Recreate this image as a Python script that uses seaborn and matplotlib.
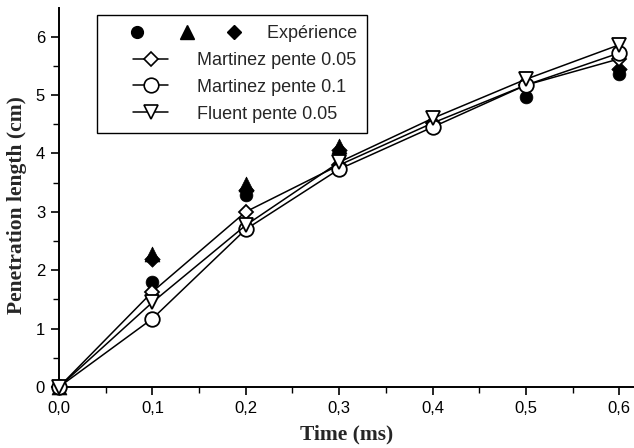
import numpy as np
import pandas as pd
import matplotlib
matplotlib.use("Agg")
import matplotlib.pyplot as plt
from matplotlib.lines import Line2D
from matplotlib.legend_handler import HandlerBase, HandlerLine2D
from matplotlib.ticker import MultipleLocator, FuncFormatter
import seaborn as sns

# ---- data -------------------------------------------------------------
time_model = [0.0, 0.1, 0.2, 0.3, 0.4, 0.5, 0.6]
martinez_005 = [0.0, 1.63, 3.00, 3.80, 4.52, 5.17, 5.62]
martinez_01 = [0.0, 1.17, 2.70, 3.73, 4.45, 5.17, 5.72]
fluent_005 = [0.0, 1.45, 2.77, 3.85, 4.60, 5.27, 5.86]

exp_circle_t = [0.0, 0.1, 0.2, 0.3, 0.5, 0.6]
exp_circle = [0.0, 1.80, 3.29, 3.97, 4.97, 5.36]
exp_triangle_t = [0.0, 0.1, 0.2, 0.3]
exp_triangle = [0.0, 2.27, 3.47, 4.12]
exp_diamond_t = [0.0, 0.1, 0.2, 0.3, 0.6]
exp_diamond = [0.0, 2.20, 3.38, 4.05, 5.45]

labels = ["Expérience", "Martinez pente 0.05", "Martinez pente 0.1", "Fluent pente 0.05"]
x_label = "Time (ms)"
y_label = "Penetration length (cm)"

# ---- style ------------------------------------------------------------
sns.set_theme(style="ticks")
plt.rcParams["font.family"] = ["Liberation Sans", "DejaVu Sans"]
plt.rcParams["axes.linewidth"] = 1.4

fig = plt.figure(figsize=(6.34, 4.48), dpi=100)
ax = fig.add_axes([59 / 634, 61 / 448, 575 / 634, 379 / 448])

# experimental points (filled black)
exp_sets = [
    (exp_circle_t, exp_circle, "o", 85),
    (exp_triangle_t, exp_triangle, "^", 115),
    (exp_diamond_t, exp_diamond, "D", 62),
]
for tx, vy, mk, sz in exp_sets:
    sns.scatterplot(x=tx, y=vy, marker=mk, s=sz, color="black",
                    edgecolor="black", linewidth=0.5, ax=ax,
                    clip_on=False, zorder=3)

# model curves (open markers)
model_sets = [
    (martinez_005, "D", 7.5),
    (martinez_01, "o", 10.5),
    (fluent_005, "v", 10.5),
]
for vy, mk, ms in model_sets:
    sns.lineplot(x=time_model, y=vy, marker=mk, markersize=ms,
                 markerfacecolor="white", markeredgecolor="black",
                 markeredgewidth=1.3, color="black", linewidth=1.1,
                 errorbar=None, sort=False, ax=ax, clip_on=False, zorder=4)

# ---- axes -------------------------------------------------------------
ax.set_xlim(0, 0.6157)
ax.set_ylim(0, 6.49)
ax.xaxis.set_major_locator(MultipleLocator(0.1))
ax.xaxis.set_minor_locator(MultipleLocator(0.05))
ax.yaxis.set_major_locator(MultipleLocator(1))
ax.yaxis.set_minor_locator(MultipleLocator(0.5))
ax.xaxis.set_major_formatter(FuncFormatter(lambda v, p: f"{v:.1f}".replace(".", ",")))
ax.yaxis.set_major_formatter(FuncFormatter(lambda v, p: f"{v:.0f}"))
ax.tick_params(which="major", direction="out", length=6, width=1.2,
               labelsize=12, pad=4, color="black", labelcolor="black")
ax.tick_params(which="minor", direction="out", length=4, width=1.0, color="black")
sns.despine(ax=ax)
for s in ("left", "bottom"):
    ax.spines[s].set_color("black")

serif = dict(family="Liberation Serif", weight="bold", size=15.5)
ax.set_xlabel(x_label, fontdict=serif, labelpad=6)
ax.set_ylabel(y_label, fontdict=serif, labelpad=4)
ax.yaxis.set_label_coords(-32 / 575, 0.48)


# ---- legend -----------------------------------------------------------
class ThreeMarkers(HandlerBase):
    def create_artists(self, legend, orig_handle, xdescent, ydescent,
                       width, height, fontsize, trans):
        y = height / 2 - ydescent
        arts = []
        for frac, h in zip((0.40, 1.06, 1.67), orig_handle):
            m = Line2D([-xdescent + frac * width], [y], linestyle="none",
                       marker=h.get_marker(), markersize=h.get_markersize(),
                       color="black", transform=trans)
            arts.append(m)
        return arts


class ShortLine(HandlerLine2D):
    def get_xdata(self, legend, xdescent, ydescent, width, height, fontsize):
        x0 = -xdescent + 0.34 * width
        x1 = -xdescent + 0.81 * width
        return np.array([x0, x1]), np.array([(x0 + x1) / 2])


exp_handle = (Line2D([], [], marker="o", ms=8.5, ls="none", color="black"),
              Line2D([], [], marker="^", ms=10, ls="none", color="black"),
              Line2D([], [], marker="D", ms=7.5, ls="none", color="black"))
model_handles = [
    Line2D([], [], color="black", lw=1.1, marker=mk, ms=ms,
           mfc="white", mec="black", mew=1.2)
    for _, mk, ms in model_sets
]

handler_map = {exp_handle: ThreeMarkers()}
for h in model_handles:
    handler_map[h] = ShortLine()

leg = ax.legend([exp_handle] + model_handles,
                [" " * 14 + labels[0]] + labels[1:],
                handler_map=handler_map, loc="upper left",
                bbox_to_anchor=((97 - 59) / 575, (387 - 15) / 379),
                borderaxespad=0, fontsize=13, handlelength=4.2,
                handletextpad=0.8, labelspacing=0.55, borderpad=0.55,
                frameon=True, fancybox=False, framealpha=1,
                edgecolor="black")
leg.get_frame().set_linewidth(1.0)

fig.savefig("out.png", dpi=100)
